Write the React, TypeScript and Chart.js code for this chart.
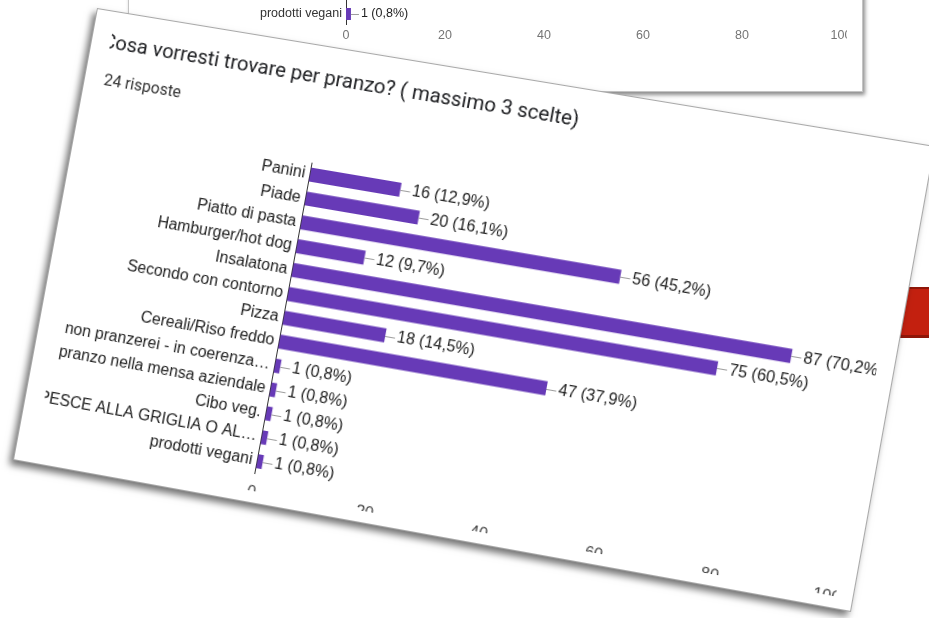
import React, { useEffect, useRef } from "react";
import { Chart, registerables } from "chart.js";

Chart.register(...registerables);

// Survey answers: "Cosa vorresti trovare per pranzo? ( massimo 3 scelte)"
const categories = [
  "Panini",
  "Piade",
  "Piatto di pasta",
  "Hamburger/hot dog",
  "Insalatona",
  "Secondo con contorno",
  "Pizza",
  "Cereali/Riso freddo",
  "non pranzerei - in coerenza…",
  "pranzo nella mensa aziendale",
  "Cibo veg.",
  "PESCE ALLA GRIGLIA O AL…",
  "prodotti vegani",
];
const counts = [16, 20, 56, 12, 87, 75, 18, 47, 1, 1, 1, 1, 1];
const respondents = 124;
const xMin = 0;
const xMax = 100;
const xStep = 20;

const TITLE = "Cosa vorresti trovare per pranzo? ( massimo 3 scelte)";
const BAR_COLOR = "#673ab7";
const LABEL_FONT = "'Liberation Sans', Arial, sans-serif";

const percentText = (v: number) =>
  ((v / respondents) * 100).toFixed(1).replace(".", ",");

// Projective transform taking a w×h box onto the quad p0..p3 (clockwise from top-left).
function quadMatrix(
  w: number,
  h: number,
  p0: number[],
  p1: number[],
  p2: number[],
  p3: number[]
) {
  const [x0, y0] = p0;
  const [x1, y1] = p1;
  const [x2, y2] = p2;
  const [x3, y3] = p3;
  const dx1 = x1 - x2,
    dx2 = x3 - x2,
    dx3 = x0 - x1 + x2 - x3;
  const dy1 = y1 - y2,
    dy2 = y3 - y2,
    dy3 = y0 - y1 + y2 - y3;
  const den = dx1 * dy2 - dx2 * dy1;
  const g = (dx3 * dy2 - dx2 * dy3) / den;
  const k = (dx1 * dy3 - dx3 * dy1) / den;
  const a = x1 - x0 + g * x1;
  const b = x3 - x0 + k * x3;
  const d = y1 - y0 + g * y1;
  const e = y3 - y0 + k * y3;
  return `matrix3d(${a / w},${d / w},0,${g / w},${b / h},${e / h},0,${k / h},0,0,1,0,${x0},${y0},0,1)`;
}

// Draws the "—16 (12,9%)" annotation at the end of every bar.
const valueLabels = {
  id: "valueLabels",
  afterDatasetsDraw(chart: any, _args: any, opts: any) {
    const { ctx } = chart;
    const meta = chart.getDatasetMeta(0);
    const data = chart.data.datasets[0].data as number[];
    ctx.save();
    ctx.font = `${opts.size}px ${LABEL_FONT}`;
    ctx.textBaseline = "middle";
    ctx.textAlign = "left";
    meta.data.forEach((bar: any, i: number) => {
      const { x, y } = bar.getProps(["x", "y"], true);
      const ly = Math.round(y) + 0.5;
      ctx.strokeStyle = "#9e9e9e";
      ctx.lineWidth = 1;
      ctx.beginPath();
      ctx.moveTo(x, ly);
      ctx.lineTo(x + opts.lead, ly);
      ctx.stroke();
      ctx.fillStyle = opts.color;
      const v = data[i];
      ctx.fillText(`${v} (${percentText(v)}%)`, x + opts.lead + opts.gap, y);
    });
    ctx.restore();
  },
};

type ChartProps = {
  left: number;
  top: number;
  width: number;
  height: number;
  axisWidth: number;
  axisHeight: number;
  padding: { top: number; right: number; bottom: number; left: number };
  labelSize: number;
  labelColor: string;
  labelPad: number;
  tickSize: number;
  tickColor: string;
  tickPad: number;
  lead: number;
};

function BarChart(p: ChartProps) {
  const ref = useRef<HTMLCanvasElement>(null);
  useEffect(() => {
    const chart = new Chart(ref.current!, {
      type: "bar",
      data: {
        labels: categories,
        datasets: [
          {
            data: counts,
            backgroundColor: BAR_COLOR,
            barPercentage: 0.58,
            categoryPercentage: 1,
          },
        ],
      },
      options: {
        indexAxis: "y",
        responsive: false,
        maintainAspectRatio: false,
        animation: false,
        layout: { padding: p.padding },
        plugins: {
          legend: { display: false },
          tooltip: { enabled: false },
          valueLabels: {
            size: p.labelSize,
            color: "#222",
            lead: p.lead,
            gap: 2,
          },
        } as any,
        scales: {
          x: {
            min: xMin,
            max: xMax,
            ticks: {
              stepSize: xStep,
              font: { size: p.tickSize, family: LABEL_FONT },
              color: p.tickColor,
              padding: p.tickPad,
              maxRotation: 0,
            },
            grid: { display: false, drawTicks: false },
            border: { display: false },
            afterFit: (s: any) => {
              s.height = p.axisHeight;
            },
          },
          y: {
            ticks: {
              font: { size: p.labelSize, family: LABEL_FONT },
              color: p.labelColor,
              padding: p.labelPad,
              autoSkip: false,
            },
            grid: { display: false, drawTicks: false },
            border: { display: true, color: "#333", width: 1 },
            afterFit: (s: any) => {
              s.width = p.axisWidth;
            },
          },
        },
      },
      plugins: [valueLabels],
    } as any);
    return () => chart.destroy();
  }, []);
  return (
    <canvas
      ref={ref}
      width={p.width}
      height={p.height}
      style={{
        position: "absolute",
        left: p.left,
        top: p.top,
        width: p.width,
        height: p.height,
      }}
    />
  );
}

const CARD_W = 845;
const CARD_H = 460;
const CARD_TRANSFORM = quadMatrix(
  CARD_W,
  CARD_H,
  [97, 8],
  [935, 146],
  [851, 612],
  [13, 460]
);

export default function App() {
  return (
    <div
      style={{
        position: "fixed",
        left: 0,
        top: 0,
        width: 929,
        height: 618,
        overflow: "hidden",
        background: "#ffffff",
      }}
    >
      {/* card behind: lower edge of the same chart */}
      <div
        style={{
          position: "absolute",
          left: 128,
          top: -300,
          width: 735,
          height: 392,
          background: "#fff",
          border: "1px solid #c4c4c4",
          boxSizing: "border-box",
          boxShadow: "2px 3px 4px rgba(0,0,0,0.45)",
        }}
      >
        <div
          style={{
            position: "absolute",
            left: 0,
            top: 0,
            width: 718,
            height: 390,
            overflow: "hidden",
          }}
        >
          <BarChart
            left={0}
            top={38}
            width={760}
            height={320}
            axisWidth={217}
            axisHeight={30}
            padding={{ top: 12.5, right: 48, bottom: 4.5, left: 0 }}
            labelSize={12.5}
            labelColor="#333"
            labelPad={4}
            tickSize={12.5}
            tickColor="#757575"
            tickPad={4}
            lead={8}
          />
        </div>
      </div>

      {/* red slide shape on the right */}
      <div
        style={{
          position: "absolute",
          left: 880,
          top: 287,
          width: 60,
          height: 51,
          boxSizing: "border-box",
          background: "#c3200f",
          borderTop: "2px solid #8f1608",
          borderBottom: "3px solid #8f1608",
        }}
      />

      {/* tilted card with the full chart */}
      <div
        style={{
          position: "absolute",
          left: 0,
          top: 0,
          width: CARD_W,
          height: CARD_H,
          transformOrigin: "0 0",
          transform: CARD_TRANSFORM,
          background: "#fff",
          border: "1px solid #a8a8a8",
          boxSizing: "border-box",
          boxShadow: "-3px 5px 7px rgba(0,0,0,0.55)",
        }}
      >
        <div
          style={{
            position: "absolute",
            left: 19,
            top: 0,
            width: 808,
            height: 447,
            overflow: "hidden",
          }}
        >
          <div
            style={{
              position: "absolute",
              left: -8,
              top: 18,
              whiteSpace: "nowrap",
              font: "20.5px/24px Roboto, sans-serif",
              color: "#202124",
            }}
          >
            {TITLE}
          </div>
          <div
            style={{
              position: "absolute",
              left: -8.5,
              top: 58.5,
              whiteSpace: "nowrap",
              font: "16px/19px Roboto, sans-serif",
              color: "#333",
            }}
          >
            {`${respondents} risposte`}
          </div>
          <BarChart
            left={-19}
            top={98}
            width={866}
            height={375}
            axisWidth={242.5}
            axisHeight={40}
            padding={{ top: 18, right: 48, bottom: 4, left: 0 }}
            labelSize={16}
            labelColor="#222"
            labelPad={5}
            tickSize={16}
            tickColor="#444"
            tickPad={10.4}
            lead={10}
          />
        </div>
      </div>
    </div>
  );
}
